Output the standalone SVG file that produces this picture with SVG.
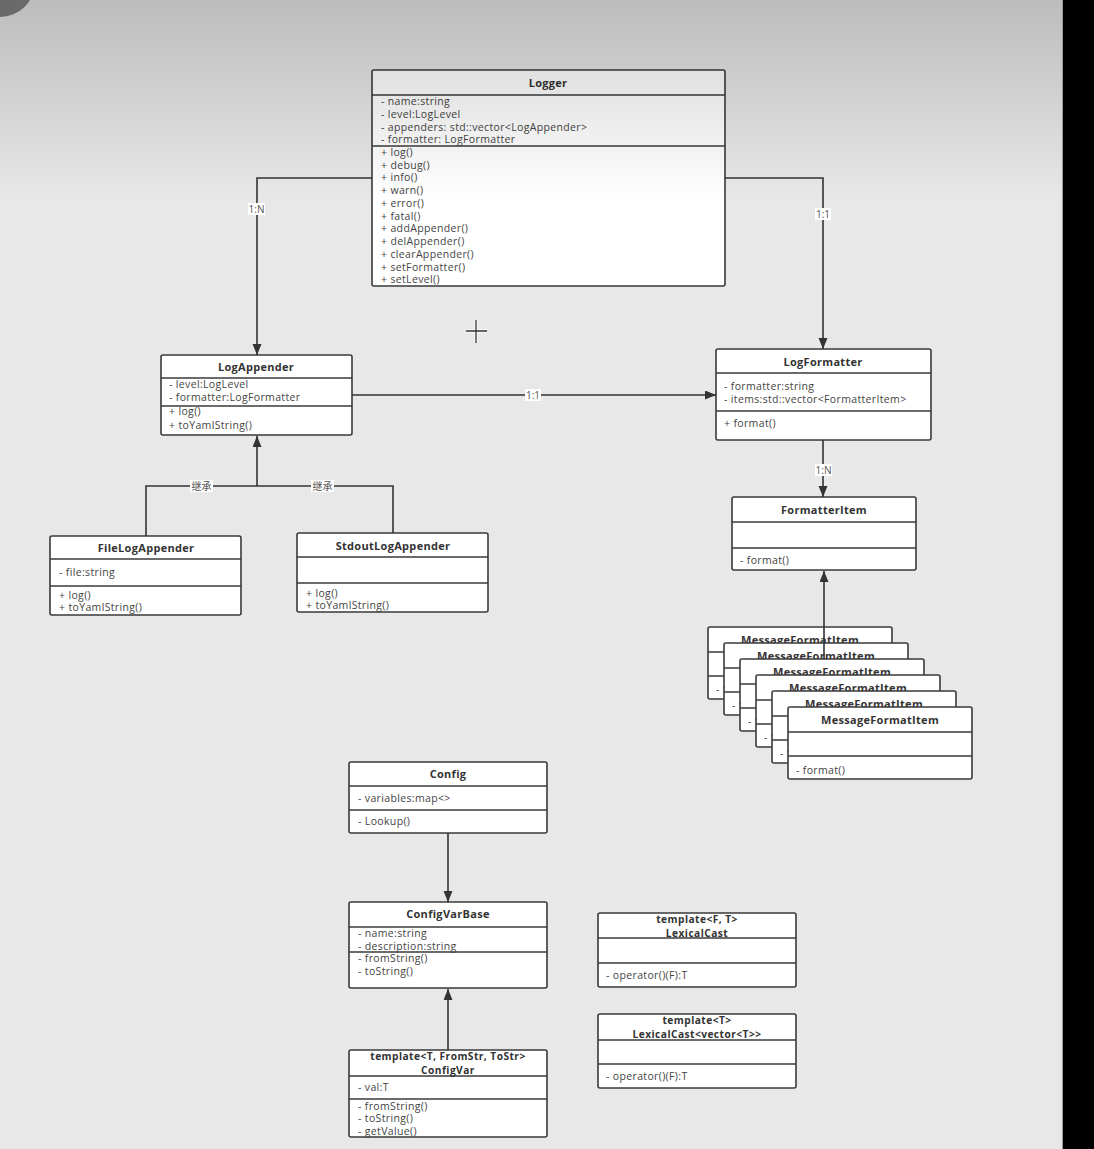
<svg xmlns="http://www.w3.org/2000/svg" width="1094" height="1149" viewBox="0 0 1094 1149">
<style>
.box{fill:#fff;stroke:#3a3a3a;stroke-width:1.6}
.dv{stroke:#3a3a3a;stroke-width:1.6;fill:none}
.t{font-family:"Open Sans","Noto Sans",sans-serif;font-weight:bold;font-size:11px;letter-spacing:0.3px;fill:#333;text-anchor:middle}
.t2{font-family:"Open Sans","Noto Sans",sans-serif;font-weight:bold;font-size:10.2px;letter-spacing:0.45px;fill:#333;text-anchor:middle}
.m{font-family:"Open Sans","Noto Sans",sans-serif;font-size:10.5px;letter-spacing:0.35px;fill:#444}
.conn{stroke:#333;stroke-width:1.6;fill:none}
.ah{stroke:#333;stroke-width:1.6;fill:none;marker-end:url(#arr)}
.lb{fill:#fff}
.lt{font-family:"Open Sans","Noto Sans CJK SC",sans-serif;font-size:10px;fill:#555;text-anchor:middle}
</style>
<defs>
<marker id="arr" markerUnits="userSpaceOnUse" markerWidth="12" markerHeight="10" refX="11" refY="4.5" orient="auto">
<path d="M0,0 L11,4.5 L0,9 z" fill="#333"/>
</marker>
<linearGradient id="shade" x1="0" y1="0" x2="0" y2="1">
<stop offset="0" stop-color="#000" stop-opacity="0.19"/>
<stop offset="1" stop-color="#000" stop-opacity="0"/>
</linearGradient>
</defs>
<rect x="0" y="0" width="1094" height="1149" fill="#e8e8e8"/>

<g id="Logger">
<rect class="box" x="372" y="70" width="353" height="216" rx="2"/>
<line class="dv" x1="372" y1="95" x2="725" y2="95"/>
<line class="dv" x1="372" y1="146" x2="725" y2="146"/>
<text class="t" x="548" y="87">Logger</text>
<text class="m" x="381" y="105">- name:string</text>
<text class="m" x="381" y="117.8">- level:LogLevel</text>
<text class="m" x="381" y="130.6">- appenders: std::vector&lt;LogAppender&gt;</text>
<text class="m" x="381" y="143.4">- formatter: LogFormatter</text>
<text class="m" x="381" y="155.8">+ log()</text>
<text class="m" x="381" y="168.6">+ debug()</text>
<text class="m" x="381" y="181.3">+ info()</text>
<text class="m" x="381" y="194.1">+ warn()</text>
<text class="m" x="381" y="206.9">+ error()</text>
<text class="m" x="381" y="219.6">+ fatal()</text>
<text class="m" x="381" y="232.4">+ addAppender()</text>
<text class="m" x="381" y="245.2">+ delAppender()</text>
<text class="m" x="381" y="257.9">+ clearAppender()</text>
<text class="m" x="381" y="270.7">+ setFormatter()</text>
<text class="m" x="381" y="283.4">+ setLevel()</text>
</g>

<g id="LogAppender">
<rect class="box" x="161" y="355" width="191" height="80" rx="2"/>
<line class="dv" x1="161" y1="378" x2="352" y2="378"/>
<line class="dv" x1="161" y1="406" x2="352" y2="406"/>
<text class="t" x="256" y="371">LogAppender</text>
<text class="m" x="169" y="388">- level:LogLevel</text>
<text class="m" x="169" y="401">- formatter:LogFormatter</text>
<text class="m" x="169" y="415">+ log()</text>
<text class="m" x="169" y="429">+ toYamlString()</text>
</g>

<g id="FileLogAppender">
<rect class="box" x="50" y="536" width="191" height="79" rx="2"/>
<line class="dv" x1="50" y1="559" x2="241" y2="559"/>
<line class="dv" x1="50" y1="586" x2="241" y2="586"/>
<text class="t" x="146" y="551.5">FileLogAppender</text>
<text class="m" x="59" y="576">- file:string</text>
<text class="m" x="59" y="599">+ log()</text>
<text class="m" x="59" y="611">+ toYamlString()</text>
</g>

<g id="StdoutLogAppender">
<rect class="box" x="297" y="533" width="191" height="79" rx="2"/>
<line class="dv" x1="297" y1="557" x2="488" y2="557"/>
<line class="dv" x1="297" y1="583" x2="488" y2="583"/>
<text class="t" x="393" y="550">StdoutLogAppender</text>
<text class="m" x="306" y="597">+ log()</text>
<text class="m" x="306" y="609">+ toYamlString()</text>
</g>

<g id="LogFormatter">
<rect class="box" x="716" y="349" width="215" height="91" rx="2"/>
<line class="dv" x1="716" y1="373" x2="931" y2="373"/>
<line class="dv" x1="716" y1="411" x2="931" y2="411"/>
<text class="t" x="823" y="366">LogFormatter</text>
<text class="m" x="724" y="389.5">- formatter:string</text>
<text class="m" x="724" y="402.5">- items:std::vector&lt;FormatterItem&gt;</text>
<text class="m" x="724" y="426.5">+ format()</text>
</g>

<g id="FormatterItem">
<rect class="box" x="732" y="497" width="184" height="73" rx="2"/>
<line class="dv" x1="732" y1="522" x2="916" y2="522"/>
<line class="dv" x1="732" y1="548" x2="916" y2="548"/>
<text class="t" x="824" y="513.5">FormatterItem</text>
<text class="m" x="740" y="563.5">- format()</text>
</g>

<g id="MessageFormatItem1">
<rect class="box" x="708" y="627" width="184" height="72" rx="2"/>
<line class="dv" x1="708" y1="652" x2="892" y2="652"/>
<line class="dv" x1="708" y1="676" x2="892" y2="676"/>
<text class="t" x="800" y="643.5">MessageFormatItem</text>
<text class="m" x="716" y="693">- format()</text>
</g>
<g id="MessageFormatItem2">
<rect class="box" x="724" y="643" width="184" height="72" rx="2"/>
<line class="dv" x1="724" y1="668" x2="908" y2="668"/>
<line class="dv" x1="724" y1="692" x2="908" y2="692"/>
<text class="t" x="816" y="659.5">MessageFormatItem</text>
<text class="m" x="732" y="709">- format()</text>
</g>
<g id="MessageFormatItem3">
<rect class="box" x="740" y="659" width="184" height="72" rx="2"/>
<line class="dv" x1="740" y1="684" x2="924" y2="684"/>
<line class="dv" x1="740" y1="708" x2="924" y2="708"/>
<text class="t" x="832" y="675.5">MessageFormatItem</text>
<text class="m" x="748" y="725">- format()</text>
</g>
<g id="MessageFormatItem4">
<rect class="box" x="756" y="675" width="184" height="72" rx="2"/>
<line class="dv" x1="756" y1="700" x2="940" y2="700"/>
<line class="dv" x1="756" y1="724" x2="940" y2="724"/>
<text class="t" x="848" y="691.5">MessageFormatItem</text>
<text class="m" x="764" y="741">- format()</text>
</g>
<g id="MessageFormatItem5">
<rect class="box" x="772" y="691" width="184" height="72" rx="2"/>
<line class="dv" x1="772" y1="716" x2="956" y2="716"/>
<line class="dv" x1="772" y1="740" x2="956" y2="740"/>
<text class="t" x="864" y="707.5">MessageFormatItem</text>
<text class="m" x="780" y="757">- format()</text>
</g>
<g id="MessageFormatItem6">
<rect class="box" x="788" y="707" width="184" height="72" rx="2"/>
<line class="dv" x1="788" y1="732" x2="972" y2="732"/>
<line class="dv" x1="788" y1="756" x2="972" y2="756"/>
<text class="t" x="880" y="723.5">MessageFormatItem</text>
<text class="m" x="796" y="773.5">- format()</text>
</g>

<g id="Config">
<rect class="box" x="349" y="762" width="198" height="71" rx="2"/>
<line class="dv" x1="349" y1="786" x2="547" y2="786"/>
<line class="dv" x1="349" y1="810" x2="547" y2="810"/>
<text class="t" x="448" y="777.5">Config</text>
<text class="m" x="358" y="802">- variables:map&lt;&gt;</text>
<text class="m" x="358" y="825">- Lookup()</text>
</g>

<g id="ConfigVarBase">
<rect class="box" x="349" y="902" width="198" height="86" rx="2"/>
<line class="dv" x1="349" y1="927" x2="547" y2="927"/>
<line class="dv" x1="349" y1="952" x2="547" y2="952"/>
<text class="t" x="448" y="918">ConfigVarBase</text>
<text class="m" x="358" y="937">- name:string</text>
<text class="m" x="358" y="949.5">- description:string</text>
<text class="m" x="358" y="962">- fromString()</text>
<text class="m" x="358" y="975">- toString()</text>
</g>

<g id="ConfigVar">
<rect class="box" x="349" y="1050" width="198" height="87" rx="2"/>
<line class="dv" x1="349" y1="1076" x2="547" y2="1076"/>
<line class="dv" x1="349" y1="1099" x2="547" y2="1099"/>
<text class="t2" x="448" y="1059.5">template&lt;T, FromStr, ToStr&gt;</text>
<text class="t2" x="448" y="1073.5">ConfigVar</text>
<text class="m" x="358" y="1091">- val:T</text>
<text class="m" x="358" y="1109.5">- fromString()</text>
<text class="m" x="358" y="1122">- toString()</text>
<text class="m" x="358" y="1134.5">- getValue()</text>
</g>

<g id="LexicalCast">
<rect class="box" x="598" y="913" width="198" height="74" rx="2"/>
<line class="dv" x1="598" y1="938" x2="796" y2="938"/>
<line class="dv" x1="598" y1="963" x2="796" y2="963"/>
<text class="t2" x="697" y="922.5">template&lt;F, T&gt;</text>
<text class="t2" x="697" y="936.5">LexicalCast</text>
<text class="m" x="606" y="978.5">- operator()(F):T</text>
</g>

<g id="LexicalCastVector">
<rect class="box" x="598" y="1014" width="198" height="74" rx="2"/>
<line class="dv" x1="598" y1="1040" x2="796" y2="1040"/>
<line class="dv" x1="598" y1="1064" x2="796" y2="1064"/>
<text class="t2" x="697" y="1024">template&lt;T&gt;</text>
<text class="t2" x="697" y="1038">LexicalCast&lt;vector&lt;T&gt;&gt;</text>
<text class="m" x="606" y="1079.5">- operator()(F):T</text>
</g>

<g id="connectors">
<path class="ah" d="M372,178 H257 V355"/>
<path class="ah" d="M725,178 H823 V349"/>
<path class="ah" d="M352,395 H716"/>
<path class="ah" d="M823,440 V497"/>
<path class="conn" d="M146,536 V486 H393 V533"/>
<path class="ah" d="M257,486 V436"/>
<path class="ah" d="M824,659 V571"/>
<path class="ah" d="M448,833 V902"/>
<path class="ah" d="M448,1050 V989"/>
<rect class="lb" x="248" y="203" width="17" height="12"/>
<text class="lt" x="256.5" y="212.5">1:N</text>
<rect class="lb" x="815" y="208" width="16" height="12"/>
<text class="lt" x="823" y="217.5">1:1</text>
<rect class="lb" x="525" y="389" width="16" height="12"/>
<text class="lt" x="533" y="398.5">1:1</text>
<rect class="lb" x="815" y="464" width="17" height="12"/>
<text class="lt" x="823.5" y="473.5">1:N</text>
<rect class="lb" x="190" y="480" width="23" height="12"/>
<text class="lt" x="201.5" y="489.5">继承</text>
<rect class="lb" x="311" y="480" width="23" height="12"/>
<text class="lt" x="322.5" y="489.5">继承</text>
</g>

<g id="cursor">
<path d="M466,331 H487 M476,320 V343" stroke="#fff" stroke-width="3.5" fill="none" opacity="0.8"/>
<path d="M466,331 H487 M476,320 V343" stroke="#333" stroke-width="1.3" fill="none"/>
</g>

<rect x="0" y="0" width="1063" height="200" fill="url(#shade)"/>
<circle cx="0" cy="-18" r="35" fill="#6a6a6a"/>
<rect x="1062" y="0" width="1" height="1149" fill="#9a9a9a"/>
<rect x="1063" y="0" width="31" height="1149" fill="#000"/>
</svg>
